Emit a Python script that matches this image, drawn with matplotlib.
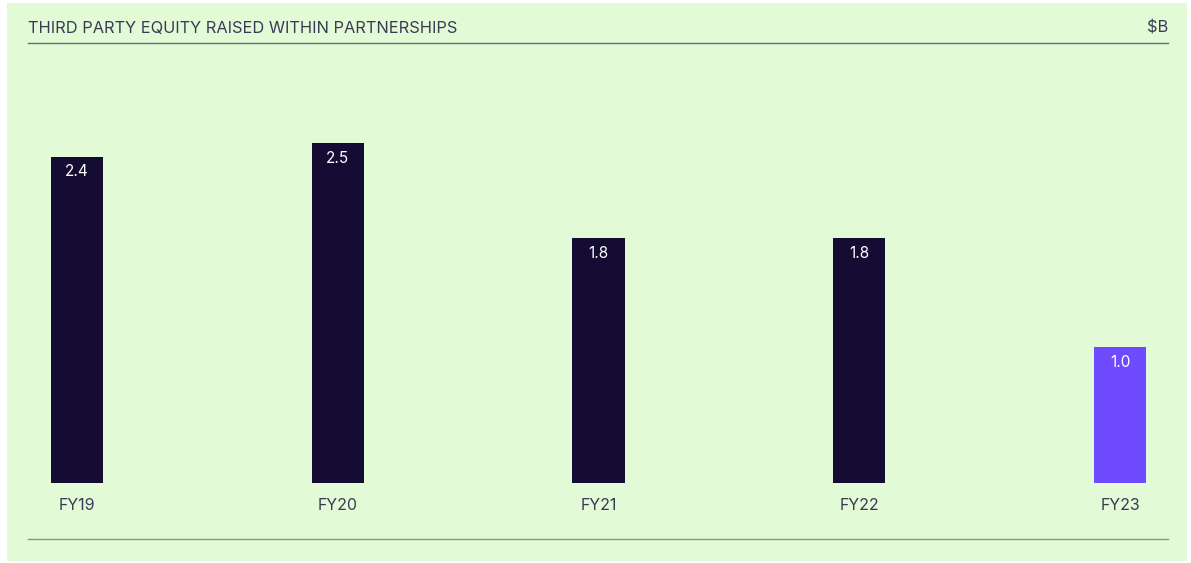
import matplotlib.pyplot as plt
from matplotlib.patches import Rectangle

# ---------------- Data ---------------- #
years = ["FY19", "FY20", "FY21", "FY22", "FY23"]
values = [2.4, 2.5, 1.8, 1.8, 1.0]
labels = ["2.4", "2.5", "1.8", "1.8", "1.0"]

title = "THIRD PARTY EQUITY RAISED WITHIN PARTNERSHIPS"
unit = "$B"

W, H = 1191, 563
bg = "#E3FAD6"
dark = "#150C33"
violet = "#6E4BFF"
text_col = "#3B3A55"
line_col = "#6B6B75"

plt.rcParams['font.family'] = ['Inter', 'DejaVu Sans']

fig = plt.figure(figsize=(W / 100, H / 100), dpi=100)
fig.patch.set_facecolor("white")

# green panel
fig.patches.append(Rectangle((7 / W, 1 - 561 / H), 1180 / W, 558 / H,
                             transform=fig.transFigure, facecolor=bg,
                             edgecolor="none", zorder=-10))

# axes placed in pixel terms
left, right, top, bottom = 28, 1168, 43, 483
ax = fig.add_axes([left / W, 1 - bottom / H, (right - left) / W, (bottom - top) / H])
ax.set_facecolor("none")
ax.set_zorder(5)

step = 260.75
ax.set_xlim(-(77 - left) / step, 4 + (right - 1120) / step)
ax.set_ylim(0, (bottom - top) / 136)

colors = [dark] * 4 + [violet]
x = list(range(len(years)))
ax.bar(x, values, width=0.2, color=colors)

for xi, v, lab in zip(x, values, labels):
    ax.annotate(lab, (xi, v), xytext=(0, -11), textcoords="offset points",
                ha="center", va="center", color="white", fontsize=11)

ax.set_xticks(x)
ax.set_xticklabels(years, fontsize=11.5, color=text_col)
ax.tick_params(axis="x", length=0, pad=11)
ax.set_yticks([])
for s in ax.spines.values():
    s.set_visible(False)

# title, unit and rules
fig.text(left / W, 1 - 28.5 / H, title, ha="left", va="center",
         fontsize=11.8, color=text_col)
fig.text(right / W, 1 - 28.5 / H, unit, ha="right", va="center",
         fontsize=11.8, color=text_col)
fig.add_artist(plt.Line2D([left / W, right / W], [1 - 43 / H, 1 - 43 / H],
                          color=line_col, lw=1, transform=fig.transFigure))
fig.add_artist(plt.Line2D([left / W, right / W], [1 - 539 / H, 1 - 539 / H],
                          color="#8A948A", lw=1, transform=fig.transFigure))

fig.savefig("out.png", dpi=100)
